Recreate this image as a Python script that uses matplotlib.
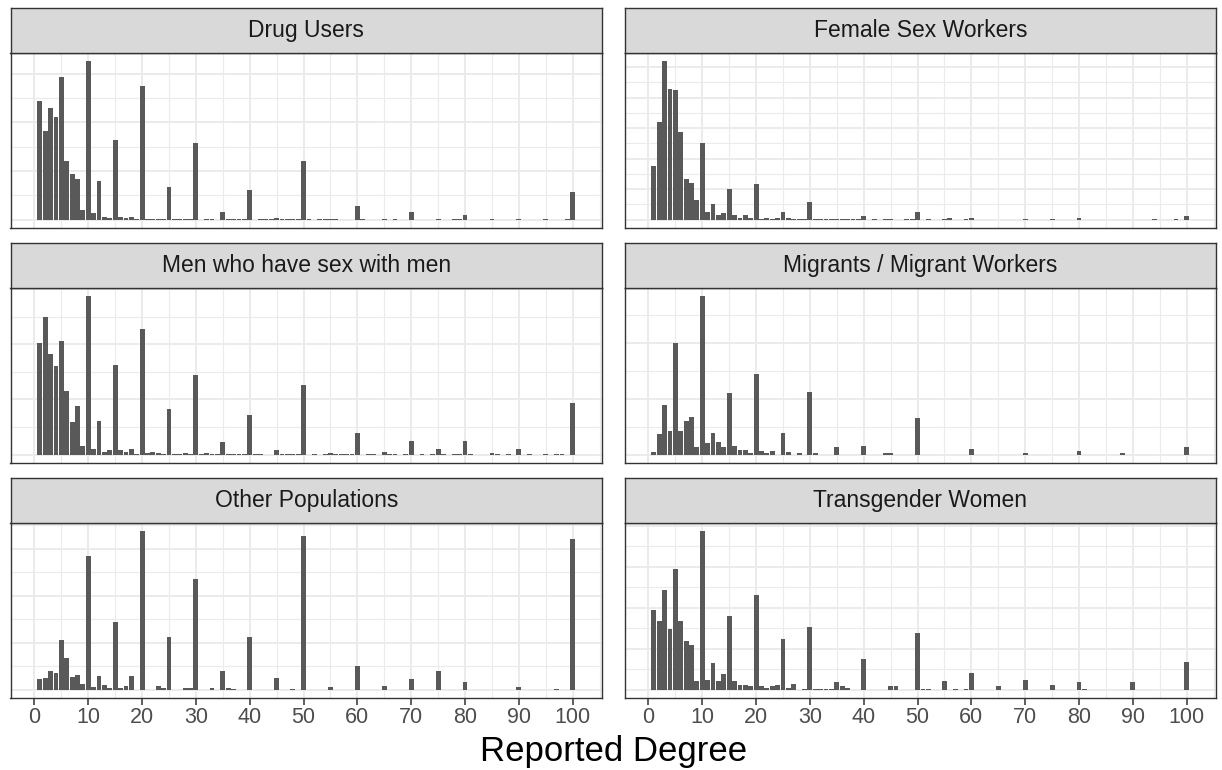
import numpy as np
import matplotlib
matplotlib.use("Agg")
import matplotlib.pyplot as plt
import matplotlib.ticker as ticker

plt.rcParams['font.family'] = ['Liberation Sans', 'DejaVu Sans']

# reported degree 1..100, one count per degree
degree = np.arange(1, 101)

drug_users = [
    122, 91, 115, 105, 147, 60, 47, 42, 10, 163,
    7, 40, 3, 2, 82, 3, 2, 3, 1, 137,
    1, 1, 1, 1, 33, 1, 1, 1, 1, 79,
    0, 1, 1, 0, 8, 1, 1, 1, 1, 30,
    0, 1, 1, 1, 2, 1, 1, 1, 1, 60,
    1, 0, 1, 1, 1, 1, 0, 0, 0, 14,
    1, 0, 0, 0, 1, 0, 1, 0, 0, 8,
    0, 0, 0, 0, 1, 0, 0, 1, 1, 5,
    0, 0, 0, 0, 1, 0, 0, 0, 0, 1,
    0, 0, 0, 0, 1, 0, 0, 0, 1, 28,
]

female_sex_workers = [
    88, 160, 260, 214, 212, 144, 67, 60, 32, 125,
    12, 26, 8, 11, 50, 8, 2, 7, 2, 59,
    1, 2, 1, 2, 12, 2, 1, 1, 1, 28,
    1, 1, 1, 1, 1, 1, 1, 1, 1, 6,
    0, 1, 0, 1, 1, 0, 0, 1, 1, 12,
    0, 1, 0, 0, 1, 2, 0, 0, 1, 3,
    0, 0, 0, 0, 0, 0, 0, 0, 0, 1,
    0, 0, 0, 0, 1, 0, 0, 0, 0, 2,
    0, 0, 0, 0, 0, 0, 0, 0, 0, 0,
    0, 0, 0, 1, 0, 0, 0, 1, 0, 6,
]

msm = [
    202, 249, 183, 161, 207, 116, 59, 89, 16, 288,
    11, 61, 5, 8, 163, 8, 5, 10, 1, 228,
    2, 5, 3, 1, 82, 1, 1, 2, 1, 145,
    1, 2, 1, 1, 22, 1, 1, 1, 1, 72,
    1, 1, 0, 0, 9, 1, 1, 1, 1, 126,
    0, 1, 0, 1, 2, 1, 1, 1, 1, 39,
    0, 1, 1, 0, 4, 1, 1, 0, 1, 25,
    0, 1, 0, 1, 11, 1, 0, 1, 1, 25,
    1, 0, 0, 0, 2, 1, 0, 1, 0, 10,
    0, 1, 0, 0, 1, 0, 1, 1, 0, 93,
]

migrants = [
    2, 18, 44, 21, 100, 21, 30, 34, 7, 142,
    10, 19, 11, 7, 55, 8, 4, 4, 1, 72,
    3, 1, 3, 0, 19, 2, 0, 1, 0, 56,
    1, 0, 0, 0, 7, 0, 0, 0, 0, 8,
    0, 0, 0, 1, 1, 0, 0, 0, 0, 33,
    0, 0, 0, 0, 0, 0, 0, 0, 0, 5,
    0, 0, 0, 0, 0, 0, 0, 0, 0, 1,
    0, 0, 0, 0, 0, 0, 0, 0, 0, 3,
    0, 0, 0, 0, 0, 0, 0, 1, 0, 0,
    0, 0, 0, 0, 0, 0, 0, 0, 0, 7,
]

other_populations = [
    11, 12, 20, 18, 53, 34, 13, 16, 6, 142,
    3, 14, 5, 2, 72, 2, 4, 14, 0, 169,
    0, 0, 4, 2, 56, 0, 0, 2, 2, 118,
    0, 0, 2, 0, 20, 2, 1, 0, 0, 56,
    0, 0, 0, 0, 12, 0, 0, 1, 0, 164,
    0, 0, 0, 0, 3, 0, 0, 0, 0, 25,
    0, 0, 0, 0, 4, 0, 0, 0, 0, 11,
    0, 0, 0, 0, 20, 0, 0, 0, 0, 8,
    0, 0, 0, 0, 0, 0, 0, 0, 0, 3,
    0, 0, 0, 0, 0, 0, 1, 0, 0, 160,
]

transgender_women = [
    97, 84, 122, 74, 147, 84, 59, 55, 10, 194,
    12, 32, 10, 19, 90, 10, 6, 6, 4, 116,
    4, 2, 4, 6, 62, 2, 7, 0, 1, 76,
    1, 1, 1, 1, 9, 4, 2, 0, 0, 37,
    0, 0, 0, 0, 4, 4, 0, 0, 0, 69,
    1, 1, 0, 0, 10, 0, 1, 0, 1, 20,
    0, 0, 0, 0, 4, 0, 0, 0, 0, 12,
    0, 0, 0, 0, 6, 0, 0, 0, 0, 9,
    1, 0, 0, 0, 0, 0, 0, 0, 0, 9,
    0, 0, 0, 0, 0, 0, 0, 0, 0, 34,
]

# (title, counts, y break step), laid out row by row
panels = [
    ("Drug Users", drug_users, 50),
    ("Female Sex Workers", female_sex_workers, 50),
    ("Men who have sex with men", msm, 100),
    ("Migrants / Migrant Workers", migrants, 50),
    ("Other Populations", other_populations, 50),
    ("Transgender Women", transgender_women, 50),
]

W, H = 1222, 770
fig = plt.figure(figsize=(W / 100, H / 100), dpi=100)

col_x = [(10.5, 602.0), (624.5, 1216.0)]
row_top = [53.0, 288.0, 523.0]
panel_h = 174.5
strip_h = 45.0

border = '#333333'
grid_col = '#EBEBEB'


def px_rect(x0, x1, top, h):
    return [x0 / W, 1 - (top + h) / H, (x1 - x0) / W, h / H]


for i, (name, counts, step) in enumerate(panels):
    row, col = divmod(i, 2)
    x0, x1 = col_x[col]
    top = row_top[row]

    ax = fig.add_axes(px_rect(x0, x1, top, panel_h))
    ax.bar(degree, counts, width=0.9, color='#595959', linewidth=0)
    ymax = max(counts)
    ax.set_xlim(-4.445, 105.445)
    ax.set_ylim(-0.05 * ymax, 1.05 * ymax)

    ax.xaxis.set_major_locator(ticker.MultipleLocator(10))
    ax.xaxis.set_minor_locator(ticker.MultipleLocator(5))
    ax.yaxis.set_major_locator(ticker.MultipleLocator(step))
    ax.yaxis.set_minor_locator(ticker.MultipleLocator(step / 2))
    ax.set_axisbelow(True)
    ax.grid(which='major', color=grid_col, linewidth=1.4)
    ax.grid(which='minor', color=grid_col, linewidth=0.8)

    ax.tick_params(axis='y', which='both', length=0, labelleft=False)
    ax.tick_params(axis='x', which='minor', length=0)
    if row == 2:
        ax.tick_params(axis='x', which='major', length=5, width=1.1,
                       color=border, labelsize=15.5, labelcolor='#4D4D4D', pad=2)
    else:
        ax.tick_params(axis='x', which='major', length=0, labelbottom=False)
    for sp in ax.spines.values():
        sp.set_color(border)
        sp.set_linewidth(1.0)

    # facet strip above the panel
    st = fig.add_axes(px_rect(x0, x1, top - strip_h, strip_h))
    st.set_facecolor('#D9D9D9')
    st.set_xticks([])
    st.set_yticks([])
    for sp in st.spines.values():
        sp.set_color(border)
        sp.set_linewidth(1.0)
    st.text(0.5, 0.5, name, ha='center', va='center', fontsize=16.5,
            color='#1A1A1A', transform=st.transAxes)

fig.text((10.5 + 1216) / 2 / W, 1 - 752 / H, "Reported Degree",
         ha='center', va='center', fontsize=25, color='black')

fig.savefig("out.png", dpi=100)
